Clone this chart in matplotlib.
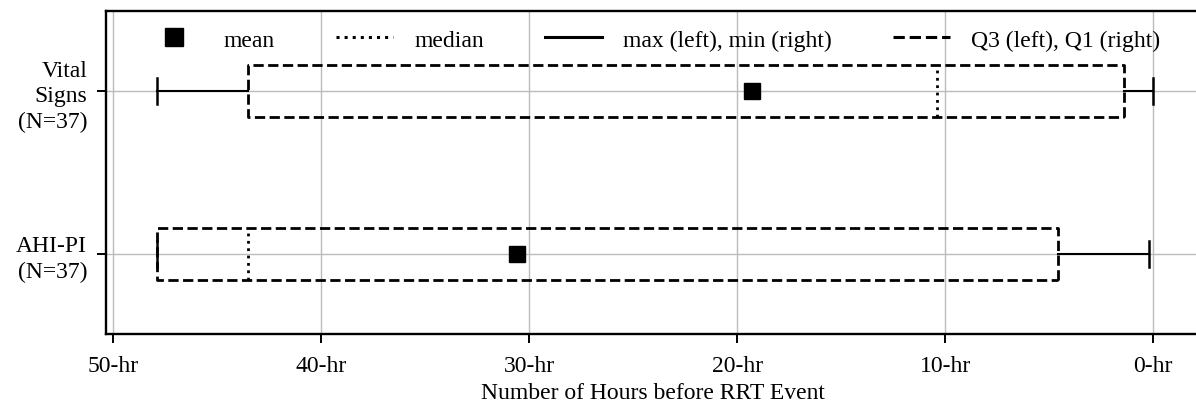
import numpy as np
import matplotlib
matplotlib.use('Agg')
from matplotlib import pyplot as plt
from matplotlib.lines import Line2D

#-----------------------------------
# Data (hours before RRT event)
groups = ['Vital\nSigns\n(N=37)', 'AHI-PI\n(N=37)']
max_hr = [47.9, 47.9]
q3_hr = [43.5, 47.9]
median_hr = [10.4, 43.5]
mean_hr = [19.3, 30.6]
q1_hr = [1.4, 4.6]
min_hr = [0.0, 0.2]
xticks = [50, 40, 30, 20, 10, 0]
xtick_labels = ['{0}-hr'.format(t) for t in xticks]

plt.rcParams['font.family'] = ['Liberation Serif', 'DejaVu Serif']
plt.rcParams['font.size'] = 17

fig = plt.figure(figsize=(11.96, 4.06), dpi=100)
ax = fig.add_axes([0.0886, 0.175, 0.915, 0.795])

# boxes drawn top to bottom, so positions are reversed
positions = [1, 0]
stats = []
for i in range(len(groups)):
    stats.append({'whislo': min_hr[i],
                  'q1': q1_hr[i],
                  'med': median_hr[i],
                  'q3': q3_hr[i],
                  'whishi': max_hr[i],
                  'mean': mean_hr[i],
                  'fliers': []})

ax.bxp(stats, positions=positions, vert=False, widths=0.32,
       showmeans=True, showfliers=False,
       boxprops=dict(linestyle='--', linewidth=2.0, color='k'),
       medianprops=dict(linestyle=':', linewidth=2.0, color='k'),
       whiskerprops=dict(linestyle='-', linewidth=1.5, color='k'),
       capprops=dict(linestyle='-', linewidth=1.8, color='k'),
       meanprops=dict(marker='s', markersize=12, markerfacecolor='k',
                      markeredgecolor='k'))

ax.set_xlim(50.34, -2.26)
ax.set_ylim(-0.49, 1.49)
ax.set_xticks(xticks)
ax.set_xticklabels(xtick_labels)
ax.set_yticks(positions)
ax.set_yticklabels(groups, multialignment='right', linespacing=1.3)
ax.tick_params(axis='both', length=6.5, width=1.4)
ax.tick_params(axis='x', pad=9)
ax.tick_params(axis='y', pad=7)
ax.grid(True, color='#bcbcbc', linewidth=1.0)
ax.set_axisbelow(True)
ax.set_xlabel('Number of Hours before RRT Event', labelpad=4)
for sp in ax.spines.values():
    sp.set_linewidth(1.7)
ax.spines['right'].set_visible(False)

handles = [Line2D([], [], linestyle='none', marker='s', markersize=13, color='k'),
           Line2D([], [], linestyle=':', linewidth=2.2, color='k'),
           Line2D([], [], linestyle='-', linewidth=2.2, color='k'),
           Line2D([], [], linestyle='--', linewidth=2.2, color='k')]
labels = ['mean', 'median', 'max (left), min (right)', 'Q3 (left), Q1 (right)']
ax.legend(handles, labels, loc='upper center', ncol=4, frameon=False,
          bbox_to_anchor=(0.5, 1.01), columnspacing=2.6, handlelength=2.4,
          handletextpad=0.9)

plt.savefig('out.png')
